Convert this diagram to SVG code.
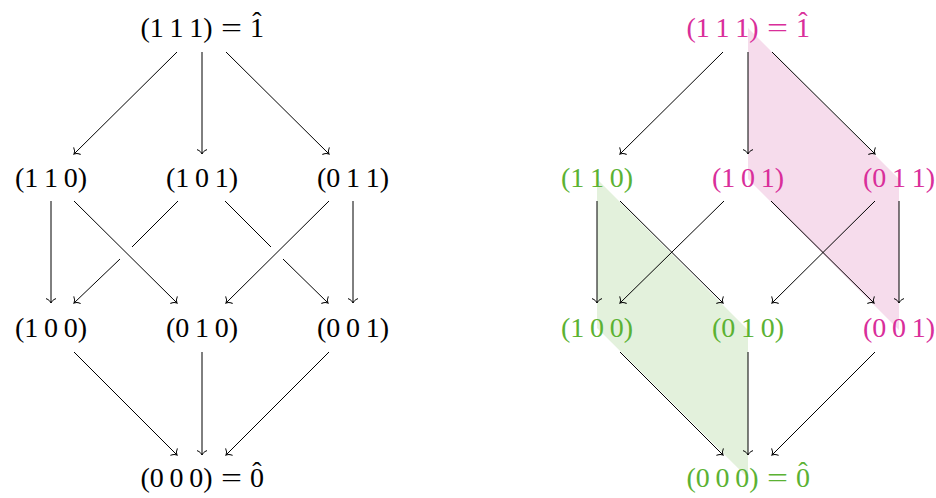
<svg xmlns="http://www.w3.org/2000/svg" width="936" height="498" viewBox="0 0 936 498">
<style>
text{font-family:"Liberation Serif","Times New Roman",serif;font-size:28px;word-spacing:-1.3px}
.n{text-anchor:middle}
.e path{fill:none;stroke:#000;stroke-width:1;marker-end:url(#to)}
.pk{fill:#d92e9a}
.gr{fill:#5bb233}
.bk{fill:#000}
</style>
<defs>
<marker id="to" markerUnits="userSpaceOnUse" orient="auto" refX="0" refY="0" markerWidth="10" markerHeight="10" style="overflow:visible">
<path d="M-4.4,-5 C-3.4,-2 -1.2,-0.45 0,0 C-1.2,0.45 -3.4,2 -4.4,5" fill="none" stroke="#000" stroke-width="1"/>
</marker>
</defs>
<rect width="936" height="498" fill="#fff"/>

<!-- shading (right diagram) -->
<g id="shading">
<polygon points="748,28 899,179 899,330 748,179" fill="#f6dcec"/>
<polygon points="597,179 748,330 748,478 597,328" fill="#e3f1dc"/>
</g>

<!-- left diagram connectors -->
<g id="edges-left" class="e">
<path d="M177,52 L74,154"/>
<path d="M202,52 L202,154"/>
<path d="M226,52 L329,154"/>
<path d="M51,201 L51,303"/>
<path d="M74,201 L177,303"/>
<path d="M178,201 L132,247 M120,259 L74,303"/>
<path d="M225,201 L271,247 M283,259 L328,303"/>
<path d="M329,201 L226,303"/>
<path d="M353,201 L353,303"/>
<path d="M74,352 L177,455"/>
<path d="M202,352 L202,455"/>
<path d="M329,352 L226,455"/>
</g>

<!-- right diagram connectors -->
<g id="edges-right" class="e">
<path d="M723,52 L620,154"/>
<path d="M748,52 L748,154"/>
<path d="M772,52 L875,154"/>
<path d="M597,201 L597,303"/>
<path d="M620,201 L723,303"/>
<path d="M724,201 L620,303"/>
<path d="M771,201 L874,303"/>
<path d="M875,201 L772,303"/>
<path d="M899,201 L899,303"/>
<path d="M620,352 L723,455"/>
<path d="M748,352 L748,455"/>
<path d="M875,352 L772,455"/>
</g>

<!-- left nodes -->
<g id="L111" class="bk"><text class="n" x="176.5" y="37">(1 1 1)</text><text class="n" x="231.5" y="37" textLength="21" lengthAdjust="spacingAndGlyphs">=</text><text class="n" x="257" y="37">1<tspan x="257" dy="-6">ˆ</tspan></text></g>
<g id="L110" class="bk"><text class="n" x="51" y="187">(1 1 0)</text></g>
<g id="L101" class="bk"><text class="n" x="202" y="187">(1 0 1)</text></g>
<g id="L011" class="bk"><text class="n" x="353" y="187">(0 1 1)</text></g>
<g id="L100" class="bk"><text class="n" x="51" y="337">(1 0 0)</text></g>
<g id="L010" class="bk"><text class="n" x="202" y="337">(0 1 0)</text></g>
<g id="L001" class="bk"><text class="n" x="353" y="337">(0 0 1)</text></g>
<g id="L000" class="bk"><text class="n" x="176.5" y="487">(0 0 0)</text><text class="n" x="231.5" y="487" textLength="21" lengthAdjust="spacingAndGlyphs">=</text><text class="n" x="257" y="487">0<tspan x="257" dy="-6">ˆ</tspan></text></g>

<!-- right nodes -->
<g id="R111" class="pk"><text class="n" x="722.5" y="37">(1 1 1)</text><text class="n" x="777.5" y="37" textLength="21" lengthAdjust="spacingAndGlyphs">=</text><text class="n" x="803" y="37">1<tspan x="803" dy="-6">ˆ</tspan></text></g>
<g id="R110" class="gr"><text class="n" x="597" y="187">(1 1 0)</text></g>
<g id="R101" class="pk"><text class="n" x="748" y="187">(1 0 1)</text></g>
<g id="R011" class="pk"><text class="n" x="899" y="187">(0 1 1)</text></g>
<g id="R100" class="gr"><text class="n" x="597" y="337">(1 0 0)</text></g>
<g id="R010" class="gr"><text class="n" x="748" y="337">(0 1 0)</text></g>
<g id="R001" class="pk"><text class="n" x="899" y="337">(0 0 1)</text></g>
<g id="R000" class="gr"><text class="n" x="722.5" y="487">(0 0 0)</text><text class="n" x="777.5" y="487" textLength="21" lengthAdjust="spacingAndGlyphs">=</text><text class="n" x="803" y="487">0<tspan x="803" dy="-6">ˆ</tspan></text></g>
</svg>
